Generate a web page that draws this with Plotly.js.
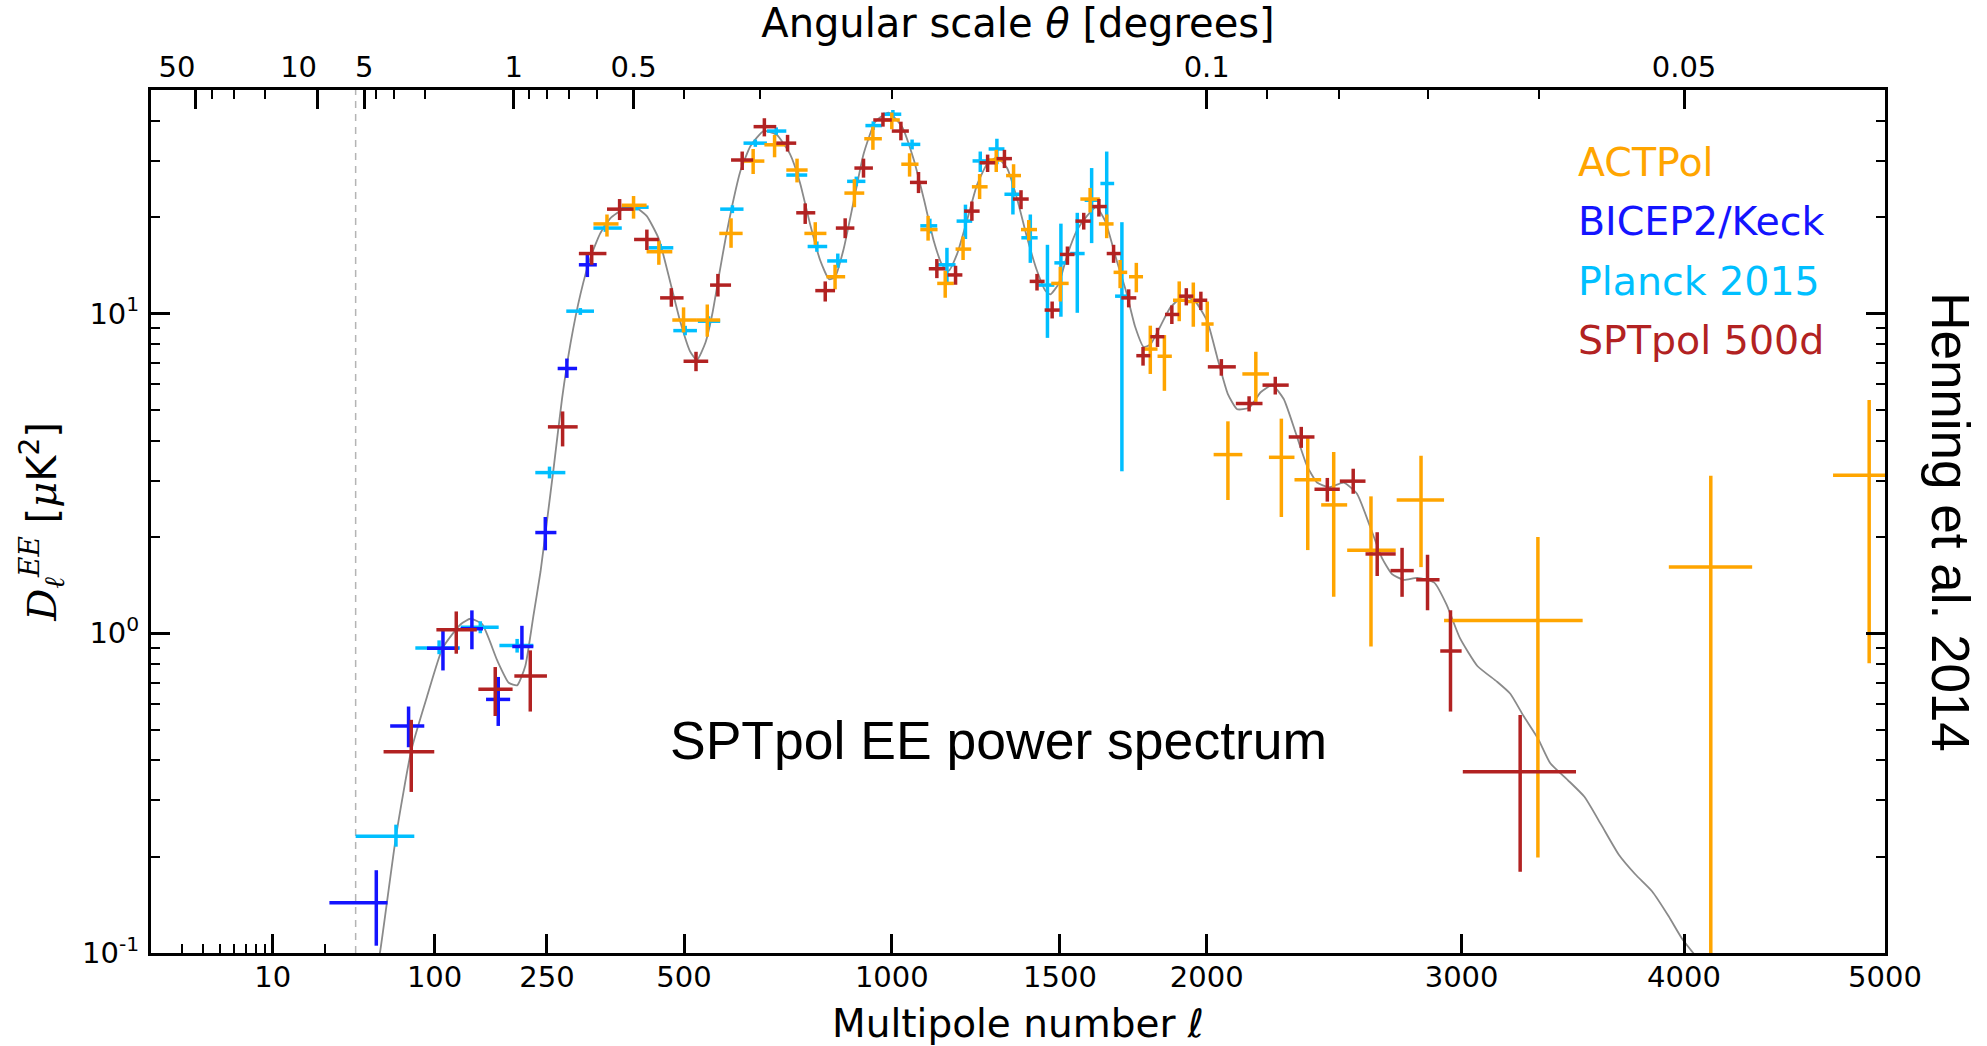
<!DOCTYPE html>
<html><head><meta charset="utf-8">
<script src="https://cdn.plot.ly/plotly-3.0.1.min.js"></script>
<style>html,body{margin:0;padding:0;background:#fff;} #chart{width:1987px;height:1046px;}</style>
</head><body><div id="chart"></div>
<script>
// ---------------- data ----------------
// ACTPol
const actEll   = [351,400,449,499,549,601,651,701,755,800,850,900,949,1000,1049,1101,1150,1202,1251,1301,1354,1401,1501,1598,1653,1698,1753,1801,1850,1902,1952,2002,2077,2180,2276,2377,2478,2626,2830,3330,4128,4918];
const actEllLo = [327,378,425,476,527,575,626,677,729,773,828,874,926,977,1026,1079,1127,1180,1228,1278,1331,1377,1472,1566,1627,1676,1728,1778,1826,1880,1927,1981,2025,2130,2229,2326,2429,2531,2730,2926,3928,4733];
const actEllHi = [372,425,476,527,577,627,677,727,781,828,876,926,973,1022,1074,1128,1175,1226,1275,1326,1377,1427,1528,1630,1676,1722,1776,1826,1876,1927,1976,2025,2130,2229,2326,2429,2531,2726,2926,3530,4329,5100];
const actD     = [19.06,21.8,15.6,9.54,9.54,17.8,29.97,33.7,28.1,17.8,13.03,23.8,35.2,40.3,29.3,18.3,12.42,15.9,24.9,30.2,27.0,18.3,12.42,22.8,19.06,13.45,13.03,7.74,7.35,11.0,10.9,9.27,3.62,6.47,3.55,3.02,2.52,1.817,2.61,1.097,1.61,3.12];
const actDLo   = [17.4,19.8,14.2,8.73,8.46,16.05,27.3,30.8,25.7,16.4,11.9,21.5,32.5,37.7,26.8,16.9,11.2,14.7,22.8,27.7,24.7,16.9,10.9,20.7,17.2,12.0,11.65,6.47,5.73,9.46,9.09,7.59,2.61,5.29,2.31,1.82,1.30,0.909,1.61,0.199,0.08,0.806];
const actDHi   = [20.4,23.3,16.9,10.45,10.67,19.85,32.7,36.2,30.5,19.3,14.2,26.3,38.4,42.5,31.7,20.2,13.6,17.4,27.3,32.5,29.3,19.6,14.0,24.7,20.4,14.7,14.4,9.16,8.56,12.6,12.5,10.9,4.60,7.59,4.69,4.08,3.69,2.68,3.59,2.0,3.11,5.36];

// BICEP2/Keck
const bkEll   = [45.1,73.4,109.3,143.8,178.4,212,247.4,282,316.5];
const bkEllLo = [21.2,56.6,91.9,130,162,198,232,267,302];
const bkEllHi = [54.3,89.1,127.4,158,195,229,265,299,333];
const bkD     = [0.1435,0.513,0.898,1.033,0.621,0.909,2.065,6.73,14.2];
const bkDLo   = [0.1054,0.44,0.765,0.891,0.513,0.827,1.817,6.29,13.0];
const bkDHi   = [0.1815,0.590,1.025,1.179,0.73,1.055,2.31,7.23,15.4];

// Planck 2015
const plEll   = [61.7,105,154.5,205,254,304.5,348,406,451.5,502.4,551.6,604,656,705,756,804,857,905,950,1003,1056,1106,1155,1209,1253,1303,1352,1406,1460,1503,1556,1603,1653,1704];
const plEllLo = [30,80,130,180,232,281,327,378,429,478,529,577,629,683,729,781,830,881,929,977,1026,1079,1127,1183,1230,1278,1326,1378,1431,1482,1533,1580,1632,1681];
const plEllHi = [79,129,179,229,279.5,328,378,429,478,527,577,629,683,729,780,830,881,929,973,1026,1079,1127,1180,1229,1278,1326,1377,1429,1482,1528,1580,1630,1678,1726];
const plD     = [0.232,0.90,1.045,0.916,3.18,10.17,18.5,21.5,16.05,8.84,9.46,21.2,34.1,37.2,27.1,16.2,14.6,25.9,38.7,42.0,33.8,18.8,14.2,19.45,30.0,32.7,23.6,17.25,12.27,14.4,15.4,22.6,25.5,11.33];
const plDLo   = [0.215,0.86,1.0,0.87,3.05,9.9,18.0,21.0,15.6,8.55,9.1,20.6,33.2,36.2,26.3,15.6,13.9,25.0,37.5,40.8,32.6,17.8,12.5,17.1,27.7,29.3,20.4,14.4,8.39,9.77,10.05,16.6,18.7,3.21];
const plDHi   = [0.252,0.95,1.09,0.96,3.32,10.4,19.0,22.0,16.5,9.15,9.8,21.8,35.0,38.2,27.9,16.8,15.4,26.8,39.9,43.3,35.0,19.8,16.05,21.9,32.1,35.2,26.8,20.4,16.4,19.1,20.65,28.5,32.1,19.3];

// SPTpol 500d
const spEll   = [76,124.7,174.3,224.4,275,324,374,425.5,474,525,572,626,677,732,775,825,876,924,976,1025,1074,1126,1180,1228,1275,1326,1377,1427,1475,1524,1577,1627,1676,1727,1776,1826,1876,1927,1979,2053,2155,2253,2352,2453,2555,2651,2752,2857,2953,3252];
const spEllLo = [51,102,152,201,251.5,302,351,401,451.5,499,555,601,652,705,753,800,852,900,950,1000,1050,1103,1157,1205,1251,1302,1352,1404,1451,1500,1550,1605,1653,1702,1753,1801,1852,1902,1952,2004,2106,2205,2304,2403,2502,2604,2705,2810,2910,3005];
const spEllHi = [99.7,150,198.5,250,300,350,400,449,499,551,601,651,705,753,800,850,900,949,1000,1047,1098,1150,1200,1251,1298,1349,1401,1451,1499,1547,1600,1653,1700,1753,1801,1850,1902,1952,2002,2106,2205,2304,2403,2502,2604,2726,2800,2907,3000,3500];
const spD     = [0.426,1.025,0.668,0.735,4.42,15.4,21.2,17.04,11.19,7.09,12.27,30.2,38.4,34.1,20.65,11.79,18.5,28.5,40.3,37.2,25.7,13.8,13.2,20.9,29.6,30.5,22.8,12.6,10.25,15.3,19.45,21.6,15.4,11.19,7.38,8.46,9.93,11.33,11.0,6.81,5.23,5.97,4.11,2.82,2.99,1.77,1.57,1.47,0.88,0.369];
const spDLo   = [0.319,0.863,0.551,0.569,3.84,14.2,19.6,15.8,10.5,6.60,11.3,28.1,35.8,32.1,19.06,10.9,17.2,26.6,38.4,34.8,23.8,12.9,12.3,19.5,27.7,28.5,21.2,11.8,9.65,14.2,18.3,20.1,14.4,10.45,6.87,7.86,9.27,10.6,10.25,6.39,4.94,5.58,3.80,2.58,2.73,1.51,1.30,1.18,0.569,0.1795];
const spDHi   = [0.536,1.17,0.784,0.884,4.94,16.4,22.8,18.3,12.0,7.59,13.3,32.1,40.8,36.2,22.1,12.6,19.85,30.5,42.5,39.8,27.7,14.8,14.1,22.4,31.4,32.5,24.3,13.3,10.9,16.2,20.65,22.8,16.4,11.9,7.86,9.02,10.6,12.0,11.7,7.2,5.51,6.34,4.42,3.06,3.27,2.07,1.85,1.76,1.18,0.555];

// Theory curve
const theoryEll = [45,48,62,76,92,109,130,142,157,177,193,205,217,229,240,250,261,274,288,305,322,339,357,381,403,425,449,472,492,513,527,545,560,575,590,604,622,645,675,706,738,762,787,812,835,850,872,898,924,955,991,1028,1061,1089,1117,1141,1160,1184,1213,1243,1273,1303,1334,1365,1396,1427,1453,1469,1496,1524,1556,1588,1618,1648,1686,1720,1749,1778,1801,1835,1871,1918,1959,2002,2038,2076,2111,2155,2198,2242,2285,2330,2374,2413,2459,2518,2570,2623,2670,2711,2758,2815,2885,2937,2993,3067,3151,3209,3267,3330,3385,3462,3538,3614,3696,3772,3849,3928,3990,4060];
const theoryD   = [0.088,0.1,0.235,0.43,0.634,0.9,1.067,1.11,1.067,0.822,0.70,0.687,0.79,1.13,1.56,2.24,3.34,5.40,8.06,11.56,15.0,17.8,19.85,21.2,21.5,20.2,17.1,12.5,9.46,7.59,7.15,8.1,10.0,13.3,17.5,21.9,27.9,33.4,37.2,36.2,31.5,25.7,19.06,14.7,12.8,13.0,15.9,22.4,31.5,39.7,42.5,38.4,30.2,22.8,16.9,14.2,13.6,15.3,19.45,25.2,29.3,30.8,28.5,22.8,17.25,13.6,11.8,11.47,12.4,15.3,18.3,20.2,21.5,19.45,14.7,11.56,9.09,7.86,8.0,9.09,10.45,11.33,10.9,9.46,7.29,5.62,5.02,5.07,5.67,5.97,5.40,4.25,3.34,2.96,2.86,2.96,2.73,2.15,1.72,1.53,1.47,1.49,1.44,1.227,0.965,0.79,0.706,0.647,0.551,0.469,0.392,0.348,0.308,0.252,0.2025,0.176,0.156,0.130,0.111,0.097];

// Tick labels
const bottomMajorEll = [10,100,250,500,1000,1500,2000,3000,4000,5000];
const bottomMinorEll = [3,4,5,6,7,8,9,20];
const topMajorTheta  = [50,10,5,1,0.5,0.1,0.05];
const topMajorText   = ['50\u00a0\u00a0\u00a0\u00a0','10\u00a0\u00a0\u00a0\u00a0','5','1','0.5','0.1','0.05']; // 50 and 10 are right-aligned to their ticks
const topMinorTheta  = [40,30,20,4,3,2,0.9,0.8,0.7,0.6,0.4,0.3,0.2,0.09,0.08,0.07,0.06];
const yMajorVals  = [0.1,1,10];
const yMajorText  = ['10<sup>-1</sup>','10<sup>0</sup>','10<sup>1</sup>'];
const yMinorVals  = [0.2,0.3,0.4,0.5,0.6,0.7,0.8,0.9,2,3,4,5,6,7,8,9,20,30,40];
const seriesNames = ['ACTPol','BICEP2/Keck','Planck 2015','SPTpol 500d'];
const seriesColors = ['#ffa500','#1414ff','#00bfff','#b22222'];
const ELL_MIN = 2, ELL_MAX = 5000, ELL_SWITCH = 30;
const D_MIN = 0.1, D_MAX = 50;

// ---------------- axis transform: log below l=30, l^0.6 above ----------------
const POW = 0.6, LOG_SLOPE = 17.98;
function u(l){ return l >= ELL_SWITCH ? Math.pow(l, POW) : Math.pow(ELL_SWITCH, POW) + LOG_SLOPE*Math.log10(l/ELL_SWITCH); }
function thetaToEll(t){ return (t >= 2 ? 180 : 200) / t; }

function crossTrace(name, ell, lo, hi, D, Dlo, Dhi, color){
  return {
    type:'scatter', mode:'markers', name: name,
    x: ell.map(u), y: D,
    marker:{size:2, color: color, opacity:0},
    error_x:{type:'data', symmetric:false,
      array: ell.map((l,i)=>u(hi[i])-u(l)), arrayminus: ell.map((l,i)=>u(l)-u(lo[i])),
      color: color, thickness:3.5, width:0},
    error_y:{type:'data', symmetric:false,
      array: D.map((d,i)=>Dhi[i]-d), arrayminus: D.map((d,i)=>d-Dlo[i]),
      color: color, thickness:3.5, width:0},
    hoverinfo:'skip', showlegend:false
  };
}

const traces = [
  {type:'scatter', mode:'lines', x: theoryEll.map(u), y: theoryD,
   line:{color:'#8a8a8a', width:1.8, shape:'spline', smoothing:0.5}, hoverinfo:'skip', showlegend:false},
  crossTrace(seriesNames[2], plEll, plEllLo, plEllHi, plD, plDLo, plDHi, seriesColors[2]),
  crossTrace(seriesNames[1], bkEll, bkEllLo, bkEllHi, bkD, bkDLo, bkDHi, seriesColors[1]),
  crossTrace(seriesNames[0], actEll, actEllLo, actEllHi, actD, actDLo, actDHi, seriesColors[0]),
  crossTrace(seriesNames[3], spEll, spEllLo, spEllHi, spD, spDLo, spDHi, seriesColors[3]),
  // anchor for the top/right axes (invisible)
  {type:'scatter', mode:'markers', x:[u(theoryEll[0])], y:[theoryD[1]], xaxis:'x2', yaxis:'y2',
   marker:{size:1, opacity:0}, hoverinfo:'skip', showlegend:false}
];

const xr = [u(ELL_MIN), u(ELL_MAX)];
const yr = [Math.log10(D_MIN), Math.log10(D_MAX)];
const tickCommon = {ticks:'inside', ticklen:19, tickwidth:3, tickcolor:'black', showgrid:false, zeroline:false};
const minorCommon = {ticks:'inside', ticklen:9, tickwidth:2, tickcolor:'black', showgrid:false};
const SERIF = '<span style="font-family:DejaVu Serif">';

const layout = {
  width:1987, height:1046,
  margin:{l:151, r:102, t:90, b:93},
  paper_bgcolor:'white', plot_bgcolor:'white', showlegend:false,
  font:{family:'DejaVu Sans', color:'black'},
  xaxis: Object.assign({
    range: xr, tickmode:'array', tickvals: bottomMajorEll.map(u), ticktext: bottomMajorEll.map(String),
    tickangle:0, showline:true, linewidth:3, linecolor:'black', mirror:true,
    tickfont:{size:29, family:'DejaVu Sans'}, ticklabelstandoff:-4,
    minor: Object.assign({tickmode:'array', tickvals: bottomMinorEll.map(u)}, minorCommon),
    title:{text:'Multipole number <i>ℓ</i>', font:{size:39, family:'DejaVu Sans'}, standoff:20}
  }, tickCommon),
  xaxis2: Object.assign({
    overlaying:'x', side:'top', anchor:'y', range: xr,
    tickmode:'array', tickvals: topMajorTheta.map(t=>u(thetaToEll(t))), ticktext: topMajorText,
    tickangle:0, showline:false, tickfont:{size:29, family:'DejaVu Sans'}, ticklabelstandoff:6,
    minor: Object.assign({tickmode:'array', tickvals: topMinorTheta.map(t=>u(thetaToEll(t)))}, minorCommon),
    title:{text:'Angular scale <i>θ</i> [degrees]', font:{size:40, family:'DejaVu Sans'}, standoff:-5}
  }, tickCommon),
  yaxis: Object.assign({
    type:'log', range: yr, tickmode:'array', tickvals: yMajorVals, ticktext: yMajorText,
    showline:true, linewidth:3, linecolor:'black', mirror:true,
    tickfont:{size:29, family:'DejaVu Sans'}, ticklabelstandoff:3,
    minor: Object.assign({tickmode:'array', tickvals: yMinorVals}, minorCommon),
    title:{text: SERIF + '<i>D</i><sub><i>ℓ</i></sub><sup><i>EE</i></sup></span> [' + SERIF + '<i>μ</i></span>K<sup>2</sup>]',
           font:{size:40, family:'DejaVu Sans'}, standoff:14}
  }, tickCommon),
  yaxis2: Object.assign({
    type:'log', overlaying:'y', side:'right', anchor:'x', range: yr,
    tickmode:'array', tickvals: yMajorVals, showticklabels:false, showline:false,
    minor: Object.assign({tickmode:'array', tickvals: yMinorVals}, minorCommon)
  }, tickCommon),
  shapes:[
    {type:'line', xref:'x', yref:'paper', x0:u(ELL_SWITCH), x1:u(ELL_SWITCH), y0:0, y1:1,
     line:{color:'#b4b4b4', width:1.5, dash:'7px,6px'}, layer:'below'}
  ],
  annotations: [
    ...seriesNames.map((n,i)=>({xref:'paper', yref:'paper', x:0.822, y:0.9166 - i*0.0688,
      xanchor:'left', yanchor:'middle', showarrow:false, text:n,
      font:{family:'DejaVu Sans', size:39.5, color:seriesColors[i]}})),
    {xref:'paper', yref:'paper', x:0.4885, y:0.2457, xanchor:'center', yanchor:'middle', showarrow:false,
     text:'SPTpol EE power spectrum', font:{family:'Liberation Sans', size:53.5, color:'black'}},
    {xref:'paper', yref:'paper', x:1.038, y:0.4994, xanchor:'center', yanchor:'middle', showarrow:false,
     textangle:90, text:'Henning et al. 2014', font:{family:'Liberation Sans', size:53, color:'black'}}
  ]
};

Plotly.newPlot('chart', traces, layout, {staticPlot:true, displayModeBar:false});
</script></body></html>
